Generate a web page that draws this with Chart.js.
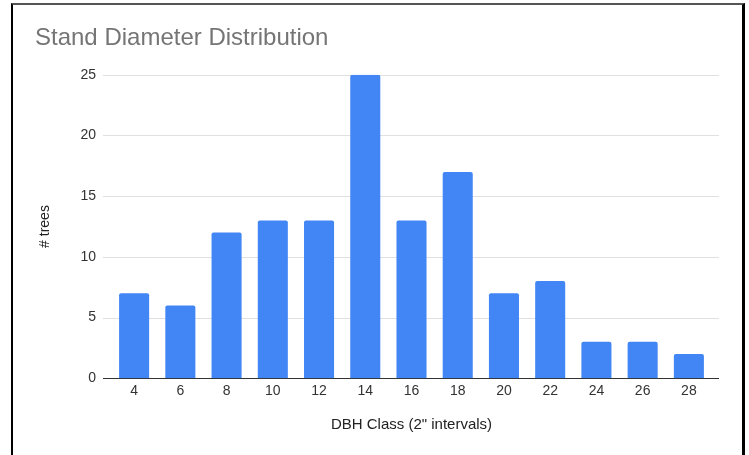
<!DOCTYPE html>
<html>
<head>
<meta charset="utf-8">
<script src="https://cdn.jsdelivr.net/npm/chart.js@4/dist/chart.umd.min.js"></script>
<style>
  html, body { margin: 0; padding: 0; background: #fff; overflow: hidden; }
  #frame {
    position: absolute; left: 11px; top: 3px; width: 734px; height: 520px;
    box-sizing: border-box;
    border-left: 2px solid #000; border-right: 3px solid #000; border-top: 2px solid #555;
  }
  #wrap { position: absolute; left: 0; top: 0; width: 749px; height: 455px; }
</style>
</head>
<body>
<div id="frame"></div>
<div id="wrap"><canvas id="c" width="749" height="455"></canvas></div>
<script>
// DBH classes (inches) and number of trees in each class
const dbhClasses = ['4', '6', '8', '10', '12', '14', '16', '18', '20', '22', '24', '26', '28'];
const treeCounts = [7, 6, 12, 13, 13, 25, 13, 17, 7, 8, 3, 3, 2];
const countTicks = [0, 5, 10, 15, 20, 25];

const FONT = '"Liberation Sans", Arial, Helvetica, sans-serif';

// Horizontal value gridlines, drawn a little wider than the bar area
const wideGrid = {
  id: 'wideGrid',
  beforeDatasetsDraw(chart) {
    const { ctx, chartArea, scales } = chart;
    const y = scales.y;
    ctx.save();
    y.ticks.forEach(t => {
      const py = Math.round(y.getPixelForValue(t.value)) + 0.5;
      ctx.beginPath();
      ctx.strokeStyle = t.value === 0 ? '#333333' : '#e0e0e0';
      ctx.lineWidth = 1;
      ctx.moveTo(chartArea.left - 8, py);
      ctx.lineTo(chartArea.right + 7, py);
      ctx.stroke();
    });
    ctx.restore();
  }
};

new Chart(document.getElementById('c'), {
  type: 'bar',
  data: {
    labels: dbhClasses,
    datasets: [{
      data: treeCounts,
      backgroundColor: '#4285f4',
      borderRadius: { topLeft: 2, topRight: 2 },
      borderSkipped: 'start',
      barPercentage: 0.65,
      categoryPercentage: 1.0
    }]
  },
  options: {
    responsive: false,
    animation: false,
    devicePixelRatio: 1,
    layout: { padding: { left: 35, right: 37, top: 0, bottom: 0 } },
    plugins: {
      legend: { display: false },
      tooltip: { enabled: false },
      title: {
        display: true,
        text: 'Stand Diameter Distribution',
        align: 'start',
        color: '#757575',
        font: { family: FONT, size: 24, weight: 'normal' },
        padding: { top: 24, bottom: 22 }
      }
    },
    scales: {
      x: {
        grid: { display: false, drawTicks: false },
        border: { display: false },
        ticks: { color: '#333', font: { family: FONT, size: 14 }, padding: 5, maxRotation: 0 },
        title: {
          display: true,
          text: 'DBH Class (2" intervals)',
          color: '#222',
          font: { family: FONT, size: 15 },
          padding: { top: 11, bottom: 21 }
        }
      },
      y: {
        min: 0,
        max: 25,
        afterBuildTicks(scale) { scale.ticks = countTicks.map(v => ({ value: v })); },
        afterFit(scale) { scale.width = 76; },
        grid: { display: false, drawTicks: false },
        border: { display: false },
        ticks: { color: '#333', font: { family: FONT, size: 14 }, padding: 15 },
        title: {
          display: true,
          text: '# trees',
          color: '#222',
          font: { family: FONT, size: 14 },
          padding: { top: 2, bottom: 0 }
        }
      }
    }
  },
  plugins: [wideGrid]
});
</script>
</body>
</html>
